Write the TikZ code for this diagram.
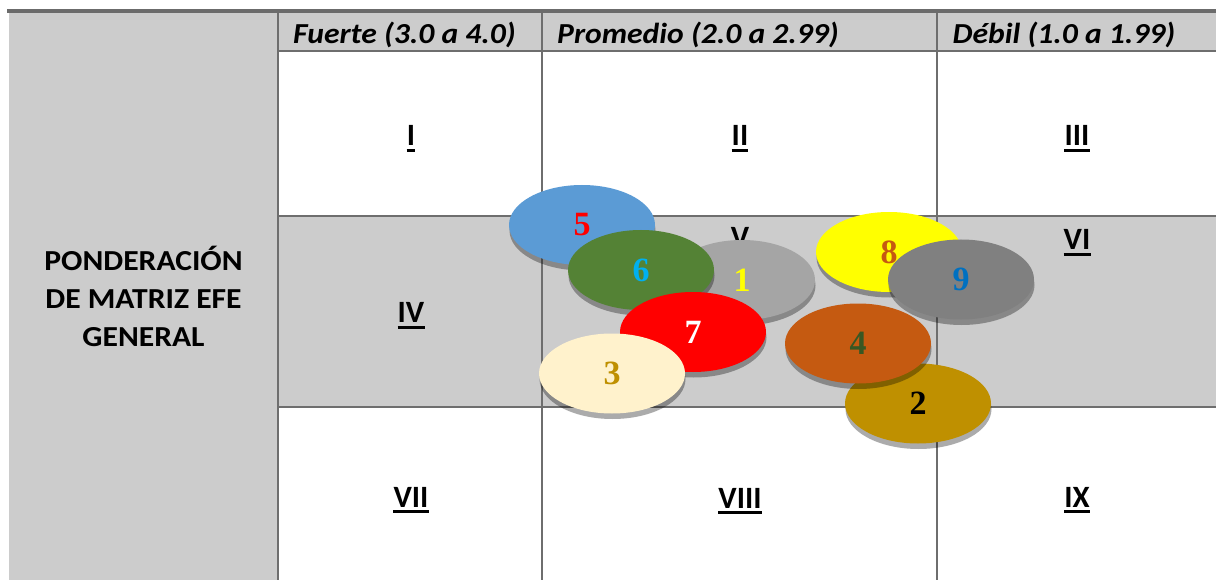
\documentclass[tikz,border=0pt]{standalone}
\usepackage{fontspec}
\setmainfont{Carlito}
\newfontfamily\hdrfont[FakeStretch=1.09]{Carlito}
\newfontfamily\lblfont[FakeStretch=1.09]{Carlito}
\newfontfamily\numfont{Liberation Serif}
\usetikzlibrary{shapes.geometric,shadows}
\definecolor{gridc}{HTML}{6E6E6E}
\definecolor{topc}{HTML}{6B6B6B}
\definecolor{cellgray}{HTML}{CCCCCC}
\definecolor{cBlue}{HTML}{5B9BD5}
\definecolor{cGreen}{HTML}{548235}
\definecolor{cGray}{HTML}{A5A5A5}
\definecolor{cRed}{HTML}{FF0000}
\definecolor{cCream}{HTML}{FFF2CC}
\definecolor{cYellow}{HTML}{FFFF00}
\definecolor{cDGray}{HTML}{808080}
\definecolor{cOrange}{HTML}{C55A11}
\definecolor{cGold}{HTML}{BF9000}
\definecolor{tCyan}{HTML}{00B0F0}
\definecolor{tBlue}{HTML}{0070C0}
\definecolor{tDGreen}{HTML}{385723}
\tikzset{
  gridline/.style={draw=gridc, line width=1.3pt},
  hdr/.style={anchor=base west, inner sep=0pt, font=\hdrfont\bfseries\itshape\fontsize{29}{34}\selectfont},
  lefttxt/.style={anchor=base, inner sep=0pt, font=\lblfont\bfseries\fontsize{29}{34}\selectfont},
  roman/.style={anchor=base, inner sep=0pt, font=\bfseries\fontsize{31}{36}\selectfont},
  uline/.style={line width=2.2pt, black},
  bubble/.style={ellipse, minimum width=146pt, minimum height=80pt, inner sep=0pt,
    font=\numfont\bfseries\fontsize{34}{40}\selectfont,
    drop shadow={shadow xshift=0.5pt, shadow yshift=-5.5pt, fill=black, opacity=0.33}}
}
\begin{document}
\begin{tikzpicture}[x=1pt,y=-1pt]
\useasboundingbox (0,0) rectangle (1216,580);
% backgrounds
\fill[white] (0,0) rectangle (1216,580);
\fill[cellgray] (8.5,12) rectangle (278,580);
\fill[cellgray] (278,12) rectangle (1216,51);
\fill[cellgray] (278,216) rectangle (1216,407);
% grid
\draw[topc, line width=4pt] (7,11) -- (1216,11);
\draw[gridline] (278,13) -- (278,580);
\draw[gridline] (542,13) -- (542,580);
\draw[gridline] (937,13) -- (937,580);
\draw[gridline] (278,51) -- (1216,51);
\draw[gridline] (278,216) -- (1216,216);
\draw[gridline] (278,407) -- (1216,407);
% headers
\node[hdr] (h1) at (293,43.3) {Fuerte (3.0 a 4.0)};
\node[hdr] (h2) at (557,43.3) {Promedio (2.0 a 2.99)};
\node[hdr] (h3) at (952.5,43.3) {Débil (1.0 a 1.99)};
% left label
\node[lefttxt] (l1) at (143.5,270) {PONDERACIÓN};
\node[lefttxt] (l2) at (143.5,308.3) {DE MATRIZ EFE};
\node[lefttxt] (l3) at (143.5,346.7) {GENERAL};
% roman numerals
\node[roman] (r1) at (411,146) {I};
\node[roman] (r2) at (740,146) {II};
\node[roman] (r3) at (1077,146) {III};
\node[roman] (r4) at (411,323) {IV};
\node[roman] (r5) at (740,248) {V};
\node[roman] (r6) at (1077,250) {VI};
\node[roman] (r7) at (411,507) {VII};
\node[roman] (r8) at (740,508) {VIII};
\node[roman] (r9) at (1077,507) {IX};
\foreach \r in {r1,r2,r3,r4,r5,r6,r7,r8,r9}
  \draw[uline] ([yshift=-4.5pt]\r.base west) -- ([yshift=-4.5pt]\r.base east);
% bubbles
\node[bubble, fill=cBlue, text=cRed] (b5) at (582,225) {5};
\node[bubble, fill=cGray, text=cYellow] (b1) at (742,280) {1};
\node[bubble, fill=cGreen, text=tCyan] (b6) at (641,270) {6};
\node[bubble, fill=cRed, text=white] (b7) at (693,332) {7};
\node[bubble, fill=cCream, text=cGold] (b3) at (612,373.5) {3};
\node[bubble, fill=cYellow, text=cOrange] (b8) at (889,252) {8};
\node[bubble, fill=cDGray, text=tBlue] (b9) at (961,279.5) {9};
\node[bubble, fill=cGold, text=black] (b2) at (918,403.5) {2};
\node[bubble, fill=cOrange, text=tDGreen] (b4) at (858,343.5) {4};
\end{tikzpicture}
\end{document}
